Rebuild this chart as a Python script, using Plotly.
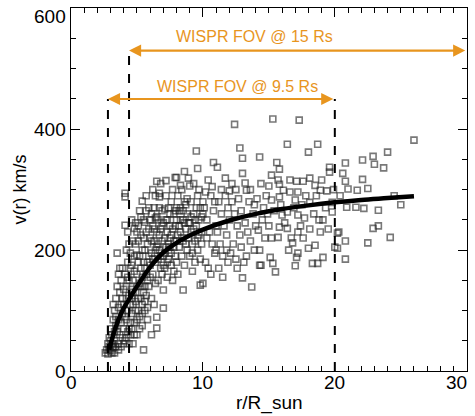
import plotly.graph_objects as go

# ---- data ----
scatter_x = [
    2.6, 2.7, 2.8, 2.9, 3.0, 2.9, 3.0, 2.8,
    3.1, 3.2, 3.3, 3.1, 3.2, 3.3, 3.4, 3.4, 3.5, 3.3, 3.5, 3.2, 3.4,
    3.6, 3.7, 3.8, 3.6, 3.9, 3.7, 3.8, 3.9, 4.0, 3.7, 3.9, 4.0, 3.6,
    4.1, 4.1, 4.2, 4.3, 4.1, 4.2, 4.4, 4.3, 4.2, 4.4, 4.1, 4.5, 4.3, 4.4, 4.5, 4.2, 4.5,
    4.6, 4.8, 5.0, 4.7, 4.9, 4.6, 4.8, 5.0, 4.7, 4.9, 4.6, 5.0, 4.8, 4.7, 4.9, 5.0, 4.6,
    5.4, 5.5, 5.1, 5.2, 5.3, 5.4, 5.1, 5.3, 5.2, 5.4, 5.5, 5.1, 5.3, 5.5, 5.2, 5.4,
    5.6, 5.7, 5.8, 5.9, 5.6, 5.8, 5.7, 5.9, 6.0, 5.6, 5.8, 6.0, 5.7, 5.9, 6.0, 5.6,
    6.1, 6.4, 6.5, 6.5, 6.2, 6.3, 6.1, 6.4, 6.2, 6.3, 6.5, 6.1, 6.4, 6.2, 6.5, 6.3, 6.1, 6.4,
    6.7, 7.0, 7.0, 6.6, 6.8, 6.9, 6.7, 6.6, 6.8, 6.9, 7.0, 6.6, 6.8, 7.0, 6.7, 6.9,
    7.1, 7.2, 7.3, 7.4, 7.1, 7.3, 7.4, 7.2, 7.5, 7.1, 7.3, 7.5, 7.2, 7.4, 7.5,
    7.7, 7.6, 7.8, 7.9, 7.6, 7.8, 7.9, 8.0, 7.7, 8.0, 7.6, 7.9, 7.8, 8.0,
    8.5, 8.1, 8.3, 8.5, 8.7, 8.9, 8.2, 8.4, 8.6, 8.8, 8.9, 9.0, 8.3, 8.6, 8.8, 8.1, 8.4, 8.7, 9.0, 8.5, 8.2,
    9.5, 9.8, 10.0, 9.1, 9.3, 9.5, 9.7, 9.9, 9.2, 9.4, 9.6, 9.8, 9.1, 9.3, 9.6, 9.9, 9.2, 9.7, 9.4, 10.0,
    10.4, 10.2, 10.1, 10.3, 10.5, 10.7, 10.9, 10.2, 10.6, 10.8, 11.0, 10.4, 10.6, 10.9, 10.3, 10.7, 11.0,
    11.1, 11.7, 12.0, 11.2, 11.4, 11.6, 11.8, 11.3, 11.5, 11.9, 11.2, 11.7, 11.4, 11.8, 12.0, 11.5, 11.9, 11.1,
    12.4, 12.8, 13.0, 13.0, 12.6, 13.0, 12.2, 12.4, 12.6, 12.8, 12.3, 12.5, 12.7, 12.9, 12.1, 12.5, 12.9, 12.2,
    13.2, 13.3, 13.7, 13.5, 13.8, 13.2, 13.4, 13.6, 13.9, 13.1, 13.6, 13.9, 13.3, 14.0,
    14.3, 14.4, 14.5, 14.2, 14.3, 14.7, 15.0, 14.6, 14.8, 14.1, 14.9, 14.4, 15.0, 14.3,
    15.3, 15.6, 15.8, 15.2, 15.7, 15.8, 15.2, 15.7, 15.8, 15.1, 15.3, 15.5, 15.2, 15.8, 16.0, 16.1, 15.4, 15.9,
    16.4, 16.6, 16.6, 16.4, 16.7, 16.8, 16.4, 17.0, 17.0, 17.1, 16.2, 16.9, 16.5,
    17.3, 17.6, 17.2, 17.2, 17.6, 17.2, 17.7, 17.2, 17.1, 18.0, 18.0, 17.5, 17.8, 17.4,
    18.7, 18.1, 18.5, 18.9, 18.1, 18.9, 18.5, 18.3, 18.7, 18.1, 19.0, 18.4, 18.8, 18.6,
    19.6, 19.6, 19.4, 19.1, 19.1, 19.8, 19.8, 19.3, 19.9, 19.5,
    20.8, 20.6, 20.8, 21.0, 20.9, 20.2, 20.8, 20.3, 20.2, 20.8, 20.0, 20.4,
    21.6, 22.2, 21.7, 22.1, 22.1, 22.5, 22.9, 23.0, 22.5, 22.9, 23.3, 23.3, 23.7,
    24.0, 24.2, 26.0, 24.5, 25.0,
    4.3, 4.5, 4.7, 4.9, 5.1, 5.3, 5.5, 5.7, 5.9, 6.1, 6.3, 6.5, 6.7, 6.9, 7.1, 7.3, 7.5, 7.7, 7.9,
    8.1, 8.3, 8.5, 8.7, 8.9, 9.1, 9.3, 9.5, 9.7, 9.9,
    4.4, 4.6, 4.8, 5.0, 5.2, 5.4, 5.6, 5.8, 6.0, 6.2, 6.4, 6.6, 6.8, 7.0, 7.2, 7.4, 7.6, 7.8, 8.0,
    8.2, 8.4, 8.6, 8.8, 9.0, 9.2, 9.4, 9.6, 9.8, 10.0,
    3.9, 4.0, 3.8, 4.1, 4.3, 4.5, 4.7, 4.9, 5.1, 5.3, 5.5, 5.7, 3.5, 3.6, 3.3, 3.1, 2.9, 3.0, 3.2,
    3.4, 3.6, 3.8, 4.0, 4.2, 4.4, 4.6, 4.8, 5.0, 5.2, 5.4, 5.6, 5.8,
    6.5, 6.7, 4.1, 8.3, 8.6, 9.6, 10.8, 8.0,
]
scatter_y = [
    30, 35, 28, 40, 33, 55, 70, 45,
    30, 38, 30, 60, 85, 100, 75, 120, 195, 50, 140, 110, 90,
    45, 60, 80, 105, 95, 130, 150, 120, 70, 170, 55, 110, 160,
    241, 288, 200, 180, 160, 140, 125, 100, 85, 70, 50, 60, 155, 210, 110, 120, 170,
    175, 236, 192, 150, 130, 95, 80, 60, 110, 210, 250, 160, 190, 45, 100, 230, 135,
    281, 35, 120, 145, 170, 200, 215, 255, 90, 75, 180, 240, 140, 220, 265, 110,
    246, 230, 210, 190, 170, 150, 125, 270, 250, 100, 85, 175, 290, 140, 220, 200,
    60, 253, 71, 89, 240, 215, 195, 180, 160, 270, 230, 120, 145, 300, 205, 110, 260, 290,
    288, 134, 104, 250, 235, 215, 200, 185, 170, 265, 245, 150, 310, 190, 225, 160,
    268, 250, 230, 210, 195, 180, 270, 290, 240, 170, 155, 220, 315, 200, 260,
    150, 280, 260, 240, 225, 205, 190, 270, 300, 215, 175, 320, 165, 250,
    134, 290, 270, 250, 235, 220, 205, 190, 175, 260, 319, 306, 230, 280, 200, 160, 300, 210, 245, 265, 240,
    364, 142, 145, 280, 260, 240, 225, 210, 195, 180, 290, 270, 230, 310, 200, 255, 165, 300, 215, 280,
    316, 296, 270, 250, 230, 210, 195, 180, 290, 265, 240, 170, 160, 280, 220, 305, 200,
    337, 319, 298, 280, 260, 240, 225, 210, 190, 270, 170, 290, 300, 200, 250, 155, 180, 230,
    408, 369, 352, 327, 170, 154, 280, 260, 240, 225, 210, 300, 285, 265, 195, 185, 205, 310,
    311, 299, 139, 280, 260, 245, 230, 215, 200, 180, 300, 275, 190, 240,
    354, 175, 250, 233, 200, 220, 306, 270, 290, 285, 260, 310, 240, 175,
    417, 345, 334, 324, 316, 309, 220, 221, 238, 188, 178, 164, 283, 288, 258, 299, 265, 275,
    375, 316, 296, 236, 220, 212, 263, 283, 174, 314, 245, 270, 200,
    415, 314, 296, 230, 220, 258, 253, 195, 188, 362, 203, 275, 290, 240,
    375, 319, 307, 299, 235, 230, 208, 178, 178, 279, 316, 260, 250, 290,
    337, 329, 298, 250, 188, 279, 263, 270, 300, 235,
    344, 327, 314, 301, 271, 228, 215, 230, 203, 185, 205, 290,
    271, 269, 299, 349, 317, 302, 355, 342, 212, 236, 240, 266, 336,
    362, 221, 382, 290, 275,
    230, 195, 215, 245, 180, 225, 250, 265, 235, 215, 235, 255, 270, 240, 220, 250, 205, 235, 265,
    225, 250, 215, 275, 245, 255, 235, 270, 250, 230,
    150, 120, 165, 140, 190, 155, 140, 180, 155, 185, 200, 210, 190, 175, 205, 185, 195, 215, 180,
    265, 220, 245, 285, 190, 210, 250, 220, 185, 260,
    170, 135, 110, 90, 65, 80, 130, 115, 100, 120, 130, 160, 65, 85, 65, 45, 35, 50, 45,
    40, 35, 40, 45, 55, 45, 70, 60, 85, 70, 95, 115, 105,
    314, 294, 294, 307, 330, 335, 345, 320,
]

curve_x = [2.9, 3.2, 3.6, 4.0, 4.5, 5.0, 6.0, 7.0, 8.0, 9.0, 10.0, 12.0, 14.0, 16.0, 18.0, 20.0, 22.0, 24.0, 26.0]
curve_y = [35, 60, 85, 104, 122, 140, 172, 196, 212, 224, 234, 249, 260, 268, 274, 279, 283, 286, 289]

# FOV markers: dashed boundaries and arrow spans
fov_labels = ["WISPR FOV @ 15 Rs", "WISPR FOV @ 9.5 Rs"]
fov_start = [4.4, 2.8]
fov_end = [30.0, 20.0]
fov_level = [530, 450]
fov_text_x = [13.9, 12.6]
fov_text_y = [553, 470]
dash_x = [2.8, 4.4, 20.0]
dash_top = [450, 536, 450]

x_ticks = [0, 10, 20, 30]
x_tick_labels = ["0", "10", "20", "30"]
y_ticks = [0, 200, 400, 600]
y_tick_labels = ["0", "200", "400", "600"]

ORANGE = "#E8951E"
FONT = "Liberation Sans, Arial, sans-serif"

fig = go.Figure()

fig.add_trace(go.Scatter(
    x=scatter_x, y=scatter_y, mode="markers",
    marker=dict(symbol="square-open", size=6, color="rgba(30,30,30,0.6)",
                line=dict(width=1.6, color="rgba(30,30,30,0.6)")),
    showlegend=False, hoverinfo="skip"))

fig.add_trace(go.Scatter(
    x=curve_x, y=curve_y, mode="lines", line=dict(color="black", width=4.5, shape="spline"),
    showlegend=False))

shapes = []
for xd, top in zip(dash_x, dash_top):
    shapes.append(dict(type="line", xref="x", yref="y", x0=xd, x1=xd, y0=0, y1=top,
                       line=dict(color="black", width=2, dash="dash")))

annotations = []
for lab, s, e, lv, tx, ty in zip(fov_labels, fov_start, fov_end, fov_level, fov_text_x, fov_text_y):
    annotations.append(dict(x=s, y=lv, ax=e, ay=lv, xref="x", yref="y", axref="x", ayref="y",
                            text="", showarrow=True, arrowhead=2, arrowsize=1.1, arrowwidth=2.2,
                            arrowcolor=ORANGE, arrowside="end+start", startarrowhead=2,
                            startarrowsize=1.1, standoff=0, startstandoff=0))
    annotations.append(dict(x=tx, y=ty, xref="x", yref="y", text=lab, showarrow=False,
                            font=dict(family=FONT, size=16, color=ORANGE)))

# tick labels placed as text next to the axes (last ones kept inside the figure)
for i, (v, t) in enumerate(zip(x_ticks, x_tick_labels)):
    last = i == len(x_ticks) - 1
    annotations.append(dict(x=v, y=0, xref="x", yref="paper", yshift=-11, text=t,
                            showarrow=False, yanchor="middle", xanchor="right" if last else "center",
                            xshift=2 if last else 0, font=dict(family=FONT, size=19)))
for i, (v, t) in enumerate(zip(y_ticks, y_tick_labels)):
    last = i == len(y_ticks) - 1
    annotations.append(dict(x=0, y=v, xref="paper", yref="y", xshift=-3, yshift=-8 if last else 0,
                            text=t, showarrow=False, xanchor="right", yanchor="middle",
                            font=dict(family=FONT, size=19)))

# axis titles
annotations.append(dict(x=0.5, y=0, xref="paper", yref="paper", yshift=-32, text="r/R_sun",
                        showarrow=False, yanchor="middle", font=dict(family=FONT, size=19)))
annotations.append(dict(x=0, y=0.5, xref="paper", yref="paper", xshift=-52, text="v(r) km/s",
                        showarrow=False, textangle=-90, xanchor="center", font=dict(family=FONT, size=18)))

fig.update_layout(
    width=475, height=416,
    margin=dict(l=71, r=8, t=8, b=45),
    paper_bgcolor="white", plot_bgcolor="white",
    font=dict(family=FONT, size=18, color="black"),
    shapes=shapes, annotations=annotations,
    xaxis=dict(range=[0, 30.02], tickvals=x_ticks, showticklabels=False, showgrid=False, zeroline=False,
               showline=True, linecolor="black", linewidth=1, mirror="allticks",
               ticks="inside", ticklen=9, tickcolor="black", automargin=False,
               minor=dict(ticks="inside", ticklen=5, dtick=1, tickcolor="black")),
    yaxis=dict(range=[0, 600.5], tickvals=y_ticks, showticklabels=False, showgrid=False, zeroline=False,
               showline=True, linecolor="black", linewidth=1, mirror="allticks",
               ticks="inside", ticklen=9, tickcolor="black", automargin=False,
               minor=dict(ticks="inside", ticklen=5, dtick=50, tickcolor="black")),
)

fig.write_html("out.html", config={"displayModeBar": False},
               post_script="document.body.style.margin='0';document.body.style.overflow='hidden';")
